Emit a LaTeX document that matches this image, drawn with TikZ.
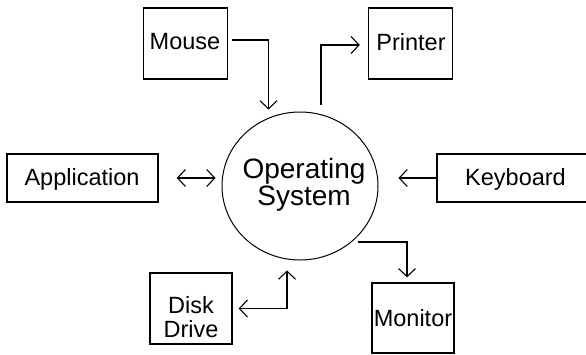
\documentclass[tikz,border=0pt]{standalone}
\usepackage{fontspec}
\setmainfont{Liberation Sans}
\usetikzlibrary{arrows.meta,shapes.geometric,calc}
\tikzset{
  box/.style={draw, line width=1.4pt, inner sep=0pt},
  txt/.style={inner sep=0pt, anchor=base, font=\fontsize{23.5}{24}\selectfont},
  ostxt/.style={inner sep=0pt, anchor=base, font=\fontsize{28}{28}\selectfont},
  conn/.style={line width=1.1pt, arrows={-Straight Barb[length=8pt,width=17pt,line width=1.1pt]}},
  conn2/.style={line width=1.1pt, arrows={Straight Barb[length=8pt,width=17pt,line width=1.1pt]-Straight Barb[length=8pt,width=17pt,line width=1.1pt]}}
}
\begin{document}
\begin{tikzpicture}[x=1pt,y=-1pt]
\useasboundingbox (0,0) rectangle (586,354);
\fill[white] (0,0) rectangle (586,354);
% boxes
\node[box, minimum width=84pt, minimum height=71pt] (mouse) at (185.5,43.5) {};
\node[box, minimum width=84pt, minimum height=71pt] (printer) at (410.5,43.5) {};
\node[box, minimum width=151pt, minimum height=48pt] (app) at (82.5,178) {};
\node[box, minimum width=160pt, minimum height=48pt] (kbd) at (517,178) {};
\node[box, minimum width=82pt, minimum height=71pt] (disk) at (191,308.5) {};
\node[box, minimum width=82pt, minimum height=70pt] (monitor) at (413,318) {};
\node[draw, line width=1pt, ellipse, minimum width=156pt, minimum height=148pt, inner sep=0pt] (os) at (300,186) {};
% texts
\node[txt] (mousetxt) at (185,49) {Mouse};
\node[txt] (printertxt) at (411,50) {Printer};
\node[txt] (apptxt) at (82,185) {Application};
\node[txt] (kbdtxt) at (515.5,185) {Keyboard};
\node[txt] (disktxt) at (191,313) {Disk};
\node[txt] (drivetxt) at (191,337) {Drive};
\node[txt] (monitortxt) at (413,326) {Monitor};
\node[ostxt] (ostxt1) at (304,178) {Operating};
\node[ostxt] (ostxt2) at (304,205) {System};
% connectors
\draw[conn] ($(mouse.east)+(4,-3.5)$) -| ($(os.north)+(-31.5,-2)$);
\draw[conn] ($(os.north)+(21,-7)$) |- ($(printer.west)+(-8,1.5)$);
\draw[conn2] ($(app.east)+(18,0)$) -- ($(os.west)+(-6,-8)$);
\draw[conn] (kbd.west) -- ($(os.east)+(20,-8)$);
\draw[conn] ($(os.center)+(58,56)$) -| ($(monitor.north)+(-6,-5)$);
\draw[conn2] ($(os.south)+(-13,10)$) |- ($(disk.east)+(6,0)$);
\end{tikzpicture}
\end{document}
